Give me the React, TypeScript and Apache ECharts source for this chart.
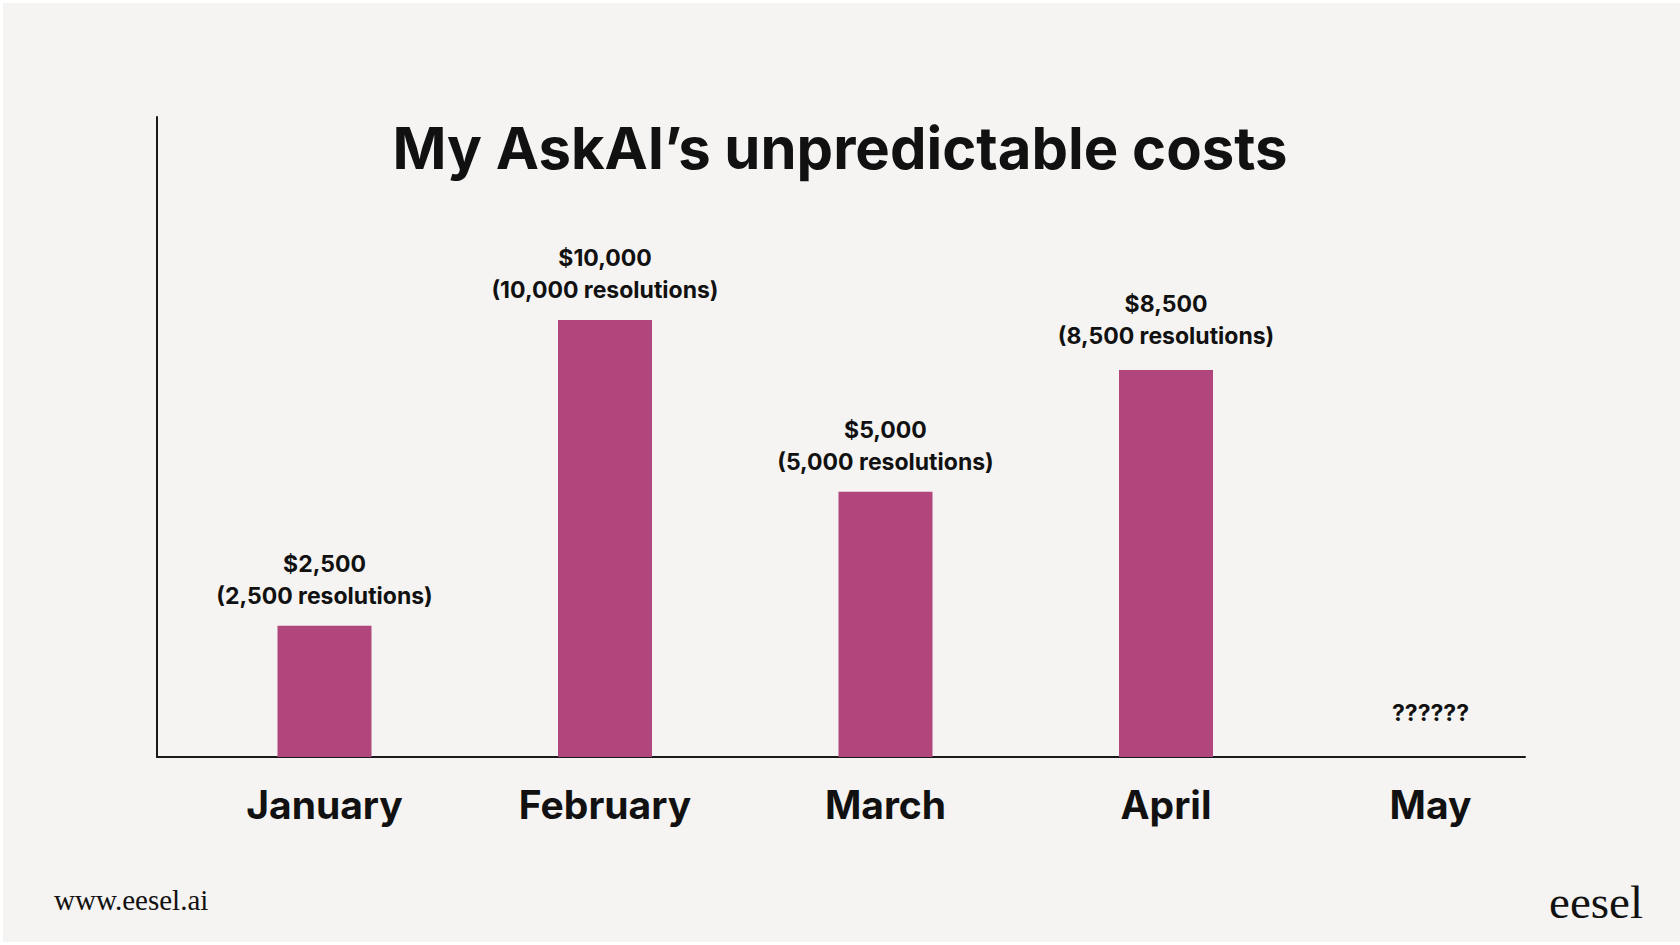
import React, { useEffect, useRef } from "react";
import * as echarts from "echarts";

const months = ["January", "February", "March", "April", "May"];
// dollar cost / resolutions printed above each bar
const costs = [2500, 10000, 5000, 8500, null];
// bar heights as drawn in the picture (units where February = 10,000)
const barHeights = [3005, 10000, 6070, 8855, 0];
const unknownLabel = "??????";
const titleText = "My AskAI\u2019s unpredictable costs";
const footerLeft = "www.eesel.ai";
const footerRight = "eesel";

const BAR = "#b0467c";
const INK = "#111111";
const FONT = "Inter, 'Noto Sans', sans-serif";

const fmt = (n: number) => n.toLocaleString("en-US");

export default function App() {
  const ref = useRef<HTMLDivElement>(null);
  useEffect(() => {
    if (!ref.current) return;
    const chart = echarts.init(ref.current, null, { renderer: "svg" });
    const lastIdx = months.length - 1;
    const monthStyle = {
      fontFamily: FONT,
      fontWeight: 700,
      fontSize: 39,
      lineHeight: 48,
      color: INK,
    };
    chart.setOption({
      animation: false,
      backgroundColor: "#ffffff",
      title: {
        text: titleText,
        left: "center",
        top: 108,
        textStyle: {
          fontFamily: FONT,
          fontWeight: 700,
          fontSize: 58,
          lineHeight: 70,
          color: INK,
        },
      },
      graphic: [
        {
          type: "rect",
          z: -10,
          silent: true,
          shape: { x: 3, y: 3, width: 1677, height: 939 },
          style: { fill: "#f5f4f2" },
        },
        {
          type: "text",
          x: 54,
          y: 914,
          style: {
            text: footerLeft,
            fontFamily: "'Liberation Serif', 'DejaVu Serif', serif",
            fontSize: 29,
            fill: INK,
            align: "left",
            verticalAlign: "bottom",
          },
        },
        {
          type: "text",
          x: 1643,
          y: 925,
          style: {
            text: footerRight,
            fontFamily: "'Liberation Serif', 'DejaVu Serif', serif",
            fontSize: 47,
            fill: INK,
            align: "right",
            verticalAlign: "bottom",
          },
        },
      ],
      grid: [
        { left: 184.25, top: 117, width: 1402.5, height: 640, containLabel: false },
        { left: 157, top: 117, width: 1368, height: 640, containLabel: false },
      ],
      xAxis: [
        {
          type: "category",
          gridIndex: 0,
          data: months,
          axisLine: { show: false },
          axisTick: { show: false },
          axisLabel: {
            margin: 23,
            formatter: (v: string) =>
              v === months[lastIdx] ? `{shift|${v}}` : `{n|${v}}`,
            rich: {
              n: monthStyle,
              shift: { ...monthStyle, padding: [0, 32, 0, 0] },
            },
          },
        },
        {
          type: "value",
          gridIndex: 1,
          min: 0,
          max: 1,
          axisLine: { show: true, lineStyle: { color: "#1a1a1a", width: 2 } },
          axisTick: { show: false },
          axisLabel: { show: false },
          splitLine: { show: false },
        },
      ],
      yAxis: [
        {
          type: "value",
          gridIndex: 0,
          min: 0,
          max: 14645,
          show: false,
          splitLine: { show: false },
        },
        {
          type: "value",
          gridIndex: 1,
          min: 0,
          max: 1,
          axisLine: { show: true, lineStyle: { color: "#1a1a1a", width: 2 } },
          axisTick: { show: false },
          axisLabel: { show: false },
          splitLine: { show: false },
        },
      ],
      series: [
        {
          type: "bar",
          xAxisIndex: 0,
          yAxisIndex: 0,
          barWidth: 94,
          itemStyle: { color: BAR },
          label: {
            show: true,
            position: "top",
            distance: 14,
            fontFamily: FONT,
            fontWeight: 700,
            fontSize: 23,
            lineHeight: 32,
            color: INK,
            formatter: (p: any) => {
              const c = costs[p.dataIndex];
              if (c == null) return unknownLabel;
              return `$${fmt(c)}\n(${fmt(c)} resolutions)`;
            },
          },
          data: barHeights.map((h, i) =>
            costs[i] == null
              ? {
                  value: h,
                  itemStyle: { color: "transparent" },
                  label: { distance: 28, offset: [-16, 0] },
                }
              : i === 3
              ? { value: h, label: { distance: 18 } }
              : h
          ),
        },
      ],
    });
    return () => chart.dispose();
  }, []);
  return (
    <div
      ref={ref}
      style={{ position: "fixed", left: 0, top: 0, width: 1680, height: 945 }}
    />
  );
}
